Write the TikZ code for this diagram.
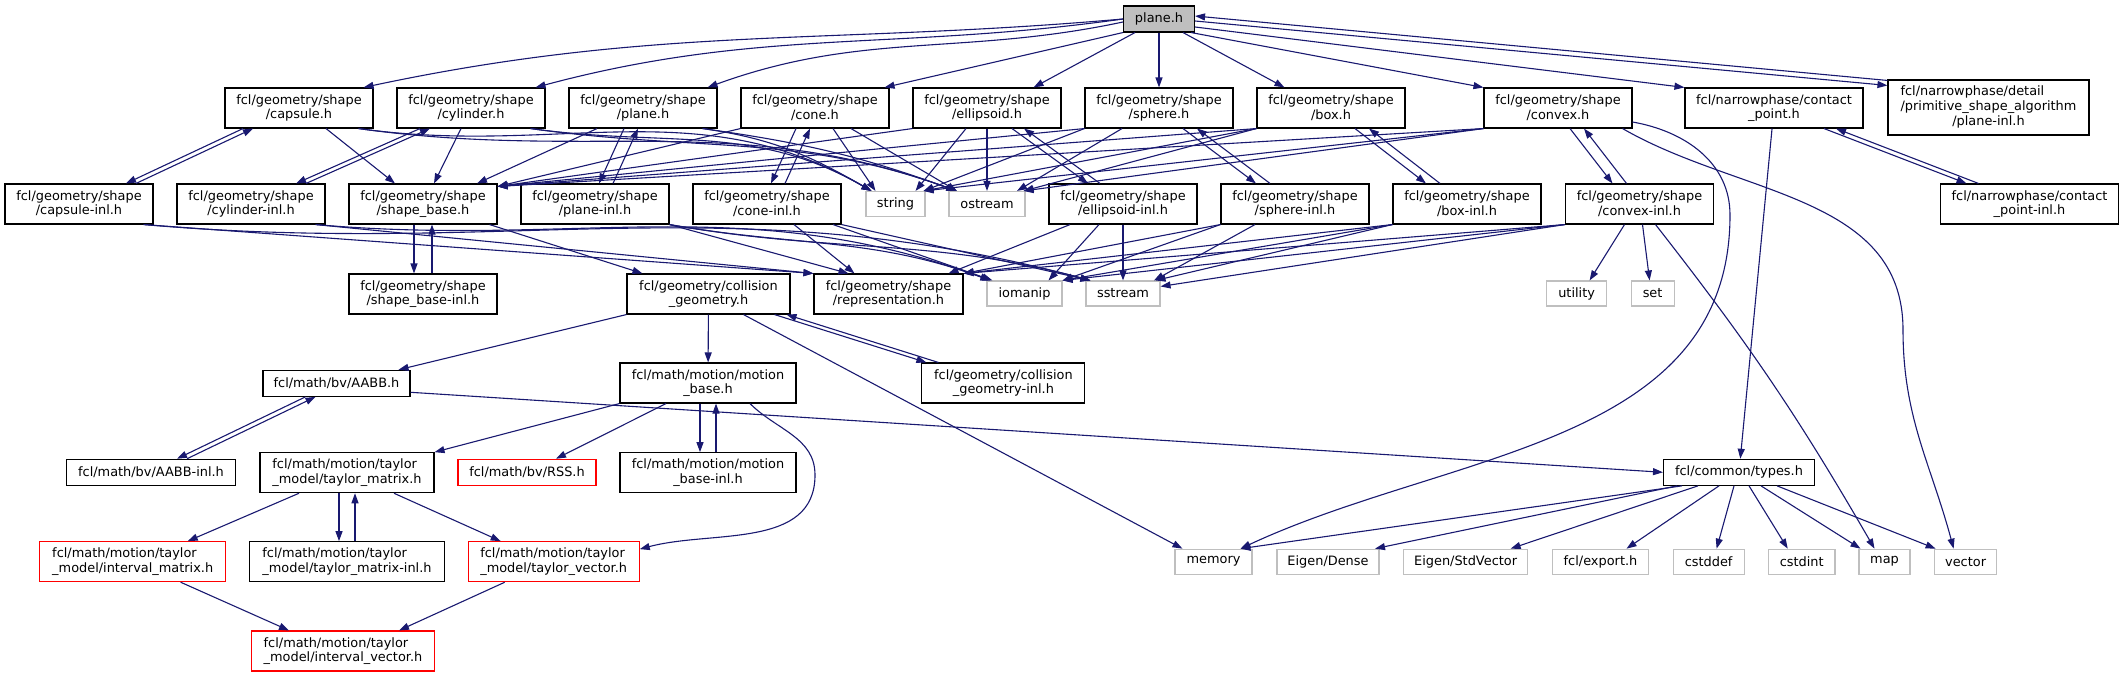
\documentclass[tikz,border=0pt]{standalone}
\usepackage{fontspec}
\setmainfont{DejaVu Sans}
\usetikzlibrary{arrows.meta}
\definecolor{edgeblue}{HTML}{191970}
\definecolor{grey75}{HTML}{BFBFBF}

\begin{document}
\begin{tikzpicture}
  [x=1pt, y=-1pt,
   font=\fontsize{12.9}{14.7}\selectfont,
   every node/.style={line width=1.1pt, inner sep=0pt},
   hbox/.style={draw=black, minimum width=#1, minimum height=40, align=center},
   hbox/.default=148,
   hone/.style={draw=black, minimum width=#1, minimum height=26},
   sys/.style={draw=grey75, minimum width=#1, minimum height=25},
   inc/.style={edgeblue, line width=1.1pt, -{Triangle[length=10pt, width=7pt]}}]
  \useasboundingbox (0,0) rectangle (2125,677);

  \node[hone=71, fill=grey75] (top) at (1159,19) {plane.h};

  \node[hbox] (capsule) at (299,108) {fcl/geometry/shape\\/capsule.h};
  \node[hbox] (cylinder) at (471,108) {fcl/geometry/shape\\/cylinder.h};
  \node[hbox] (gplane) at (643,108) {fcl/geometry/shape\\/plane.h};
  \node[hbox] (cone) at (815,108) {fcl/geometry/shape\\/cone.h};
  \node[hbox] (ellipsoid) at (987,108) {fcl/geometry/shape\\/ellipsoid.h};
  \node[hbox] (sphere) at (1159,108) {fcl/geometry/shape\\/sphere.h};
  \node[hbox] (box) at (1331,108) {fcl/geometry/shape\\/box.h};
  \node[hbox] (convex) at (1558,108) {fcl/geometry/shape\\/convex.h};
  \node[hbox=178] (contact) at (1774,108) {fcl/narrowphase/contact\\\_point.h};
  \node[hone=201, minimum height=55] (prim) at (1988.5,107.5)
    {\begin{tabular}{@{}l@{}}fcl/narrowphase/detail\\/primitive\_shape\_algorithm\\\multicolumn{1}{@{}c@{}}{/plane-inl.h}\end{tabular}};

  \node[hbox] (capsulei) at (79,204) {fcl/geometry/shape\\/capsule-inl.h};
  \node[hbox] (cylinderi) at (251,204) {fcl/geometry/shape\\/cylinder-inl.h};
  \node[hbox] (shapebase) at (423,204) {fcl/geometry/shape\\/shape\_base.h};
  \node[hbox] (planei) at (595,204) {fcl/geometry/shape\\/plane-inl.h};
  \node[hbox] (conei) at (767,204) {fcl/geometry/shape\\/cone-inl.h};
  \node[sys=59] (string) at (895.5,204) {string};
  \node[sys=76] (ostream) at (987,204) {ostream};
  \node[hbox] (ellipsoidi) at (1123,204) {fcl/geometry/shape\\/ellipsoid-inl.h};
  \node[hbox] (spherei) at (1295,204) {fcl/geometry/shape\\/sphere-inl.h};
  \node[hbox] (boxi) at (1467,204) {fcl/geometry/shape\\/box-inl.h};
  \node[hbox] (convexi) at (1639.5,204) {fcl/geometry/shape\\/convex-inl.h};
  \node[hbox=178] (contacti) at (2029.5,204) {fcl/narrowphase/contact\\\_point-inl.h};

  \node[hbox] (shapebasei) at (423,294) {fcl/geometry/shape\\/shape\_base-inl.h};
  \node[hbox=163] (collgeo) at (708.5,294) {fcl/geometry/collision\\\_geometry.h};
  \node[hbox=149] (repr) at (888.5,294) {fcl/geometry/shape\\/representation.h};
  \node[sys=75] (iomanip) at (1024.5,293.5) {iomanip};
  \node[sys=74] (sstream) at (1123,293.5) {sstream};
  \node[sys=60] (utility) at (1576.6,293.5) {utility};
  \node[sys=43] (set) at (1652.6,293.5) {set};

  \node[hone=147] (AABB) at (336.5,383.3) {fcl/math/bv/AABB.h};
  \node[hbox=176] (motionbase) at (708,383) {fcl/math/motion/motion\\\_base.h};
  \node[hbox=163] (collgeoi) at (1003.4,383) {fcl/geometry/collision\\\_geometry-inl.h};

  \node[hone=169] (AABBi) at (151,472.3) {fcl/math/bv/AABB-inl.h};
  \node[hbox=174, align=left] (taylormatrix) at (347,472.7) {fcl/math/motion/taylor\\\_model/taylor\_matrix.h};
  \node[hone=138, draw=red] (RSS) at (527,472.3) {fcl/math/bv/RSS.h};
  \node[hbox=176] (motionbasei) at (708,472.7) {fcl/math/motion/motion\\\_base-inl.h};
  \node[hone=151] (types) at (1739,472.3) {fcl/common/types.h};

  \node[hbox=186, align=left, draw=red] (intervalmatrix) at (132.7,561.7) {fcl/math/motion/taylor\\\_model/interval\_matrix.h};
  \node[hbox=195, align=left] (taylormatrixi) at (347,561.7) {fcl/math/motion/taylor\\\_model/taylor\_matrix-inl.h};
  \node[hbox=171, align=left, draw=red] (taylorvector) at (553.7,561.7) {fcl/math/motion/taylor\\\_model/taylor\_vector.h};
  \node[sys=77] (memory) at (1213.5,561.7) {memory};
  \node[sys=102] (dense) at (1328,561.7) {Eigen/Dense};
  \node[sys=124] (stdvector) at (1465.6,561.7) {Eigen/StdVector};
  \node[sys=96] (export) at (1600.5,561.7) {fcl/export.h};
  \node[sys=71] (cstddef) at (1708.6,561.7) {cstddef};
  \node[sys=66.5] (cstdint) at (1801.7,561.7) {cstdint};
  \node[sys=51] (map) at (1884.5,561.7) {map};
  \node[sys=62.4] (vector) at (1965.6,561.7) {vector};

  \node[hbox=183, align=left, draw=red] (intervalvector) at (343,651) {fcl/math/motion/taylor\\\_model/interval\_vector.h};

  \draw[inc] (top.west) to[out=185, in=12] ([xshift=-10]capsule.north east);
  \draw[inc] (top.west) to[out=188, in=15] ([xshift=-10]cylinder.north east);
  \draw[inc] ([yshift=-3]top.west) to[out=192, in=20] ([xshift=-10]gplane.north east);
  \draw[inc] (top.south west) -- ([xshift=-5]cone.north east);
  \draw[inc] ([xshift=-24]top.south) -- ([xshift=-28]ellipsoid.north east);
  \draw[inc] (top) -- (sphere);
  \draw[inc] ([xshift=24]top.south) -- ([xshift=28]box.north west);
  \draw[inc] ([xshift=-4]top.south east) -- (convex.north west);
  \draw[inc] ([yshift=-8]top.east) -- (contact.north west);
  \draw[inc] ([yshift=-2]top.east) -- ([yshift=-6]prim.north west);
  \draw[inc] ([yshift=-1]prim.north west) -- ([yshift=3]top.east);

  \foreach \up/\dn/\su/\sd/\g in {capsule/capsulei/-51/52/5, cylinder/cylinderi/-46/50/5,
      gplane/planei/-12/11/7, cone/conei/-12/11/7, ellipsoid/ellipsoidi/31/-29/6,
      sphere/spherei/31/-32/7, box/boxi/31/-34/7, convex/convexi/19/-20/7,
      contact/contacti/56/-57/6, shapebase/shapebasei/0/0/9, collgeo/collgeoi/72/-71/6,
      AABB/AABBi/-26/31/5, motionbase/motionbasei/0/0/8, taylormatrix/taylormatrixi/0/0/8}
  {
    \draw[inc] ([xshift=\su-\g]\up.south) -- ([xshift=\sd-\g]\dn.north);
    \draw[inc] ([xshift=\sd+\g]\dn.north) -- ([xshift=\su+\g]\up.south);
  }

  \draw[inc] ([xshift=27]capsule.south) -- ([xshift=-28]shapebase.north);
  \draw[inc] ([xshift=-10]cylinder.south) -- ([xshift=11]shapebase.north);
  \draw[inc] ([xshift=-46]gplane.south) -- ([xshift=54]shapebase.north);
  \foreach \s in {cone,ellipsoid,sphere,box,convex}
    \draw[inc] (\s.south west) -- ([yshift=-3]shapebase.north east);

  \foreach \s in {capsule,cylinder,gplane}
  {
    \draw[inc] ([xshift=-15]\s.south east) to[out=-8, in=150] ([xshift=6]string.north west);
    \draw[inc] ([xshift=-15]\s.south east) to[out=-8, in=160] ([xshift=8]ostream.north west);
  }
  \draw[inc] ([xshift=18]cone.south) -- ([xshift=-20]string.north);
  \draw[inc] ([xshift=36]cone.south) -- ([xshift=-30]ostream.north);
  \draw[inc] ([xshift=-21]ellipsoid.south) -- ([xshift=20]string.north);
  \draw[inc] (ellipsoid) -- (ostream);
  \draw[inc] (sphere.south west) -- ([xshift=-2]string.north east);
  \draw[inc] ([xshift=-37]sphere.south) -- ([xshift=30]ostream.north);
  \foreach \s in {box,convex}
  {
    \draw[inc] (\s.south west) -- ([xshift=-2]string.north east);
    \draw[inc] (\s.south west) -- ([xshift=-2]ostream.north east);
  }

  \draw[inc] ([xshift=-10]capsulei.south east) -- (repr.north west);
  \draw[inc] ([xshift=-10]capsulei.south east) to[out=-5, in=165] ([xshift=5]sstream.north west);
  \draw[inc] ([xshift=-10]cylinderi.south east) -- (repr.north west);
  \draw[inc] ([xshift=-10]cylinderi.south east) to[out=-5, in=160] ([xshift=4]iomanip.north west);
  \draw[inc] (planei.south east) -- ([xshift=-40]repr.north);
  \draw[inc] (planei.south east) to[out=-10, in=160] ([xshift=4]iomanip.north west);
  \draw[inc] (planei.south east) to[out=-10, in=165] ([xshift=5]sstream.north west);
  \draw[inc] ([xshift=27]conei.south) -- ([xshift=-34]repr.north);
  \draw[inc] ([xshift=66]conei.south) -- ([xshift=6]iomanip.north west);
  \draw[inc] (conei.south east) -- ([xshift=5]sstream.north west);
  \draw[inc] ([xshift=-53]ellipsoidi.south) -- ([xshift=60]repr.north);
  \draw[inc] ([xshift=-24]ellipsoidi.south) -- ([xshift=24]iomanip.north);
  \draw[inc] (ellipsoidi) -- (sstream);
  \foreach \s in {spherei,boxi,convexi}
  {
    \draw[inc] (\s.south west) -- (repr.north east);
    \draw[inc] (\s.south west) -- (iomanip.north east);
  }
  \draw[inc] ([xshift=-40]spherei.south) -- ([xshift=31]sstream.north);
  \draw[inc] (boxi.south west) -- ([xshift=-5]sstream.north east);
  \draw[inc] (convexi.south west) -- ([yshift=-6]sstream.north east);
  \draw[inc] ([xshift=-15]convexi.south) -- ([xshift=13]utility.north);
  \draw[inc] ([xshift=3]convexi.south) -- ([xshift=-3]set.north);
  \draw[inc] ([xshift=16]convexi.south) to[bend left=4] ([xshift=-10]map.north);
  \draw[inc] ([yshift=-14]convex.east) to[out=-10, in=90] (1730,215) to[out=-90, in=25] ([xshift=-12]memory.north east);
  \draw[inc] ([xshift=-10]convex.south east) to[out=-30, in=90] (1903,330) to[out=-90, in=105] ([xshift=-12]vector.north);
  \draw[inc] (contact) -- (types);

  \draw[inc] ([xshift=-8]shapebase.south east) -- ([xshift=16]collgeo.north west);
  \draw[inc] (collgeo.south west) -- ([xshift=-12]AABB.north east);
  \draw[inc] (collgeo) -- (motionbase);
  \draw[inc] ([xshift=35]collgeo.south) -- ([xshift=-31]memory.north);
  \draw[inc] ([yshift=-9]AABB.east) -- (types.west);
  \draw[inc] (motionbase.south west) -- (taylormatrix.north east);
  \draw[inc] ([xshift=-42]motionbase.south) -- ([xshift=29]RSS.north);
  \draw[inc] ([xshift=42]motionbase.south) to[out=-45, in=90] (815,475) to[out=-90, in=15] ([yshift=-8]taylorvector.north east);
  \draw[inc] ([xshift=-48]taylormatrix.south) -- ([xshift=55]intervalmatrix.north);
  \draw[inc] ([xshift=47]taylormatrix.south) -- ([xshift=-53]taylorvector.north);
  \draw[inc] ([xshift=48]intervalmatrix.south) -- ([xshift=-54]intervalvector.north);
  \draw[inc] ([xshift=-49]taylorvector.south) -- ([xshift=56]intervalvector.north);

  \foreach \tgt/\fa/\fb in {memory/-57/27, dense/-62/47, stdvector/-41/45, export/-20/26,
      cstddef/-5/8, cstdint/10/-14, map/22/-24, vector/38/-30}
    \draw[inc] ([xshift=\fa]types.south) -- ([xshift=\fb]\tgt.north);
\end{tikzpicture}
\end{document}
